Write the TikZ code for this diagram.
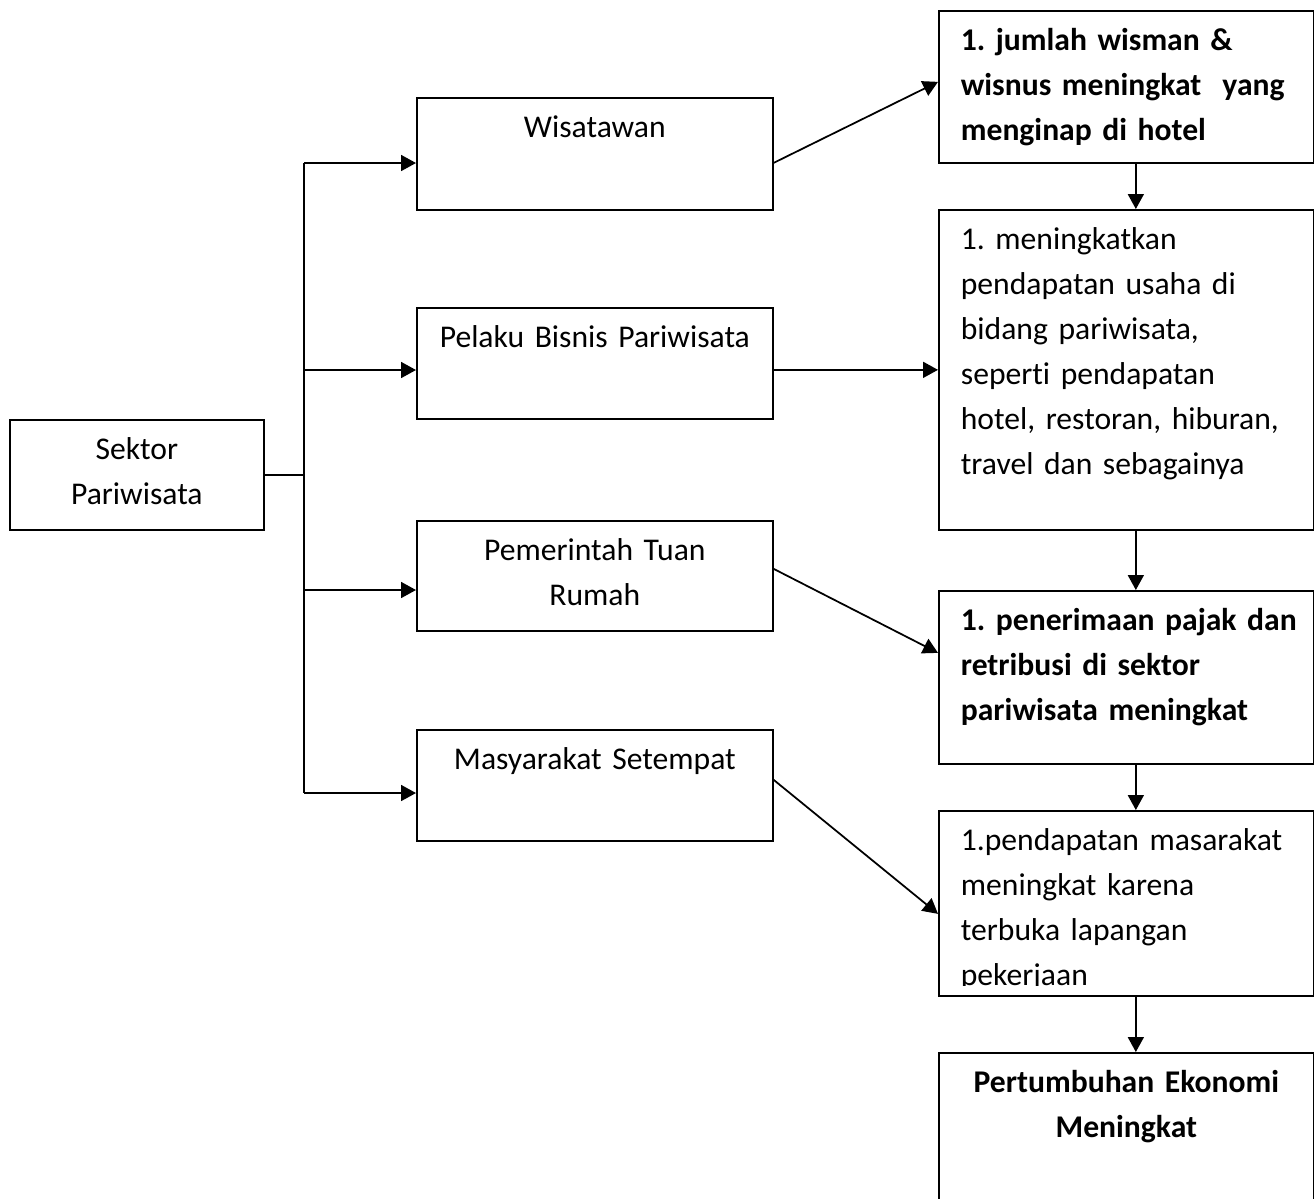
\documentclass[tikz,border=0pt]{standalone}
\usepackage{fontspec}
\setmainfont{Carlito}[Ligatures=NoCommon]
\usepackage{trimclip}
\usetikzlibrary{positioning,arrows.meta}

\begin{document}
\fontsize{18}{25.6}\selectfont\frenchspacing
\begin{tikzpicture}[x=0.02cm,y=-0.02cm,line width=1pt]
	\tikzstyle{box}=[draw=black,rectangle,anchor=north west,inner xsep=0.44cm,inner ysep=0pt,text height=0.8cm]
	\tikzstyle{midbox}=[box,inner xsep=0.3cm,text width=6.52cm,align=center]
	\tikzstyle{resbox}=[box,text width=6.62cm,align=left]
	\tikzstyle{arr}=[-{Triangle[length=0.3cm,width=0.32cm]}]

	\useasboundingbox (0,0) rectangle (1314,1198);

	%sektor
	\node[box,text width=4.2cm,align=center,text depth=1.4cm] (sektor) at (9,419) {Sektor\\Pariwisata};

	%pelaku
	\node[midbox,text depth=1.44cm] (wis) at (416,97) {Wisatawan};
	\node[midbox,text depth=1.42cm] (pel) at (416,307) {Pelaku Bisnis Pariwisata};
	\node[midbox,text depth=1.4cm] (pem) at (416,520) {Pemerintah Tuan\\Rumah};
	\node[midbox,text depth=1.42cm] (masy) at (416,729) {Masyarakat Setempat};

	%cabang
	\foreach \n/\y in {wis/163,pel/370,pem/590,masy/793}{
		\coordinate (b-\n) at (304,\y);
		\draw[arr] (b-\n) -- (b-\n -| \n.west);
	}
	\draw (b-wis) -- (b-masy);
	\draw (sektor.east) -- (sektor.east -| b-wis);

	%dampak
	\node[resbox,font=\bfseries,text depth=2.24cm] (res1) at (938,10) {\mbox{1. jumlah wisman \&}\\\mbox{wisnus meningkat\ \ yang}\\menginap di hotel};
	\node[resbox,text depth=5.6cm] (res2) at (938,209) {1. meningkatkan\\pendapatan usaha di\\bidang pariwisata,\\seperti pendapatan\\\mbox{hotel, restoran, hiburan,}\\travel dan sebagainya};
	\node[resbox,font=\bfseries,text depth=2.66cm] (res3) at (938,590) {\mbox{1. penerimaan pajak dan}\\retribusi di sektor\\pariwisata meningkat};
	\node[resbox,text depth=2.9cm] (res4) at (938,810) {\mbox{1.pendapatan masarakat}\\meningkat karena\\terbuka lapangan\\\clipbox{0pt {\depth} 0pt 0pt}{pekerjaan}};
	\node[resbox,font=\bfseries,align=center,text depth=2.6cm] (res5) at (938,1052) {Pertumbuhan Ekonomi\\Meningkat};

	\draw[arr] ([yshift=-0.18cm]wis.east) -- ([yshift=0.1cm]res1.west);
	\draw[arr] (pel.east |- res2.west) -- (res2.west);
	\draw[arr] ([yshift=0.14cm]pem.east) -- ([yshift=0.49cm]res3.west);
	\draw[arr] ([yshift=0.11cm]masy.east) -- ([yshift=-0.21cm]res4.west);

	\foreach \a/\b in {res1/res2,res2/res3,res3/res4,res4/res5}
		\draw[arr] ([xshift=0.19cm]\a.south) -- ([xshift=0.19cm]\b.north);

\end{tikzpicture}
\end{document}
